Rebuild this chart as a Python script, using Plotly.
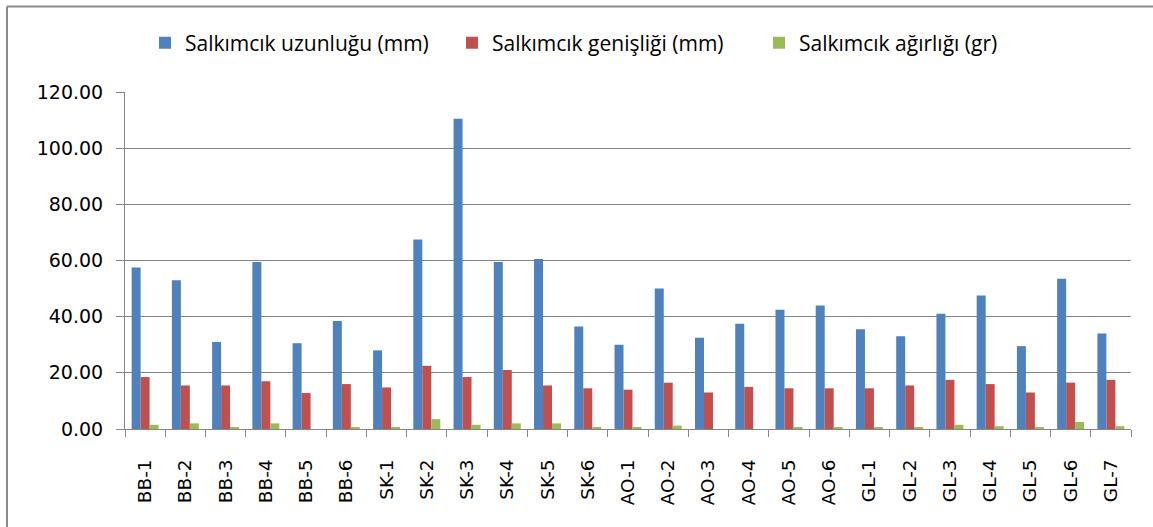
import plotly.graph_objects as go

categories = ["BB-1", "BB-2", "BB-3", "BB-4", "BB-5", "BB-6", "SK-1", "SK-2", "SK-3", "SK-4",
              "SK-5", "SK-6", "AO-1", "AO-2", "AO-3", "AO-4", "AO-5", "AO-6", "GL-1", "GL-2",
              "GL-3", "GL-4", "GL-5", "GL-6", "GL-7"]
uzunluk = [57.5, 53.0, 31.0, 59.5, 30.5, 38.5, 28.0, 67.5, 110.5, 59.5,
           60.5, 36.5, 30.0, 50.0, 32.5, 37.5, 42.5, 44.0, 35.5, 33.0,
           41.0, 47.5, 29.5, 53.5, 34.0]
genislik = [18.5, 15.5, 15.5, 17.0, 12.8, 16.0, 14.8, 22.5, 18.5, 21.0,
            15.5, 14.5, 14.0, 16.5, 13.0, 15.0, 14.5, 14.5, 14.5, 15.5,
            17.5, 16.0, 13.0, 16.5, 17.5]
agirlik = [1.5, 2.0, 0.6, 2.0, 0.0, 0.6, 0.6, 3.5, 1.5, 2.0,
           2.0, 0.6, 0.6, 1.2, 0.0, 0.0, 0.6, 0.6, 0.6, 0.6,
           1.5, 1.0, 0.6, 2.5, 1.0]
series_names = ["Salkımcık uzunluğu (mm)", "Salkımcık genişliği (mm)", "Salkımcık ağırlığı (gr)"]
colors = ["#4F81BD", "#C0504D", "#9BBB59"]

W, H = 1153, 527
L, R, T, B = 125, 22, 92, 98
pw, ph = W - L - R, H - T - B


def px(x):
    return (x - L) / pw


def py(y):
    return (H - B - y) / ph


fig = go.Figure()
for name, vals, col in zip(series_names, [uzunluk, genislik, agirlik], colors):
    fig.add_trace(go.Bar(x=categories, y=vals, name=name, marker=dict(color=col, line=dict(width=0))))

grid_col = "#868686"
tick_font = dict(family="DejaVu Sans, sans-serif", size=19, color="#000000")
fig.update_layout(
    width=W, height=H,
    margin=dict(l=L, r=R, t=T, b=B, autoexpand=False),
    paper_bgcolor="white", plot_bgcolor="white",
    barmode="group", bargap=0.33, bargroupgap=0,
    font=dict(family="DejaVu Sans, sans-serif", size=18, color="black"),
    legend=dict(orientation="h", x=px(145), xanchor="left", y=py(43), yanchor="middle",
                font=dict(family="Open Sans, sans-serif", size=21, color="#000000"),
                entrywidth=262, traceorder="normal", itemwidth=30),
    xaxis=dict(showline=True, linecolor=grid_col, linewidth=1, ticks="outside", tickson="boundaries",
               ticklen=7, tickcolor=grid_col, tickangle=-90, showgrid=False, automargin=False,
               tickfont=dict(family="DejaVu Sans, sans-serif", size=18.5, color="#000000"),
               ticklabelstandoff=22),
    yaxis=dict(range=[0, 120], dtick=20, tickformat=".2f", showline=True, linecolor=grid_col,
               ticks="outside", ticklen=8, tickcolor=grid_col, gridcolor=grid_col, gridwidth=1,
               zeroline=False, tickfont=tick_font, automargin=False, ticklabelstandoff=9),
    shapes=[
        dict(type="line", xref="paper", yref="paper", x0=px(7), x1=px(W), y0=py(6.5), y1=py(6.5),
             line=dict(color="#8a8a8a", width=2)),
        dict(type="line", xref="paper", yref="paper", x0=px(7), x1=px(7), y0=py(6.5), y1=py(H),
             line=dict(color="#8a8a8a", width=2)),
    ],
)

fig.write_html("out.html", config={"displayModeBar": False},
               post_script="document.body.style.margin='0';")
